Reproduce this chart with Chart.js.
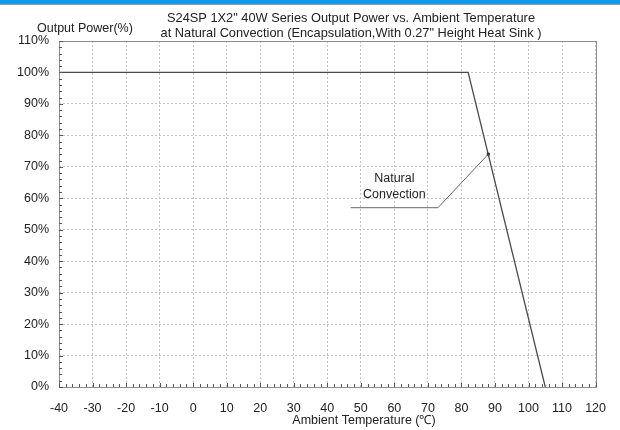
<!DOCTYPE html>
<html>
<head>
<meta charset="utf-8">
<script src="https://cdn.jsdelivr.net/npm/chart.js@4.4.1/dist/chart.umd.min.js"></script>
<style>
  html, body { margin: 0; padding: 0; background: #fff; }
  #wrap { width: 620px; height: 430px; position: relative; }
</style>
</head>
<body>
<div id="wrap"><canvas id="myChart" width="620" height="430"></canvas></div>
<script>
// axis ranges
const tempMin = -40, tempMax = 120, tempStep = 10, tempMinorStep = 2;
const powerMin = 0, powerMax = 110, powerStep = 10, powerMinorStep = 2;

// derating curve
const curveTemp = [-40, 82, 105];
const curvePower = [100, 100, 0];

// marked point + leader line of the label
const markerTemp = [88];
const markerPower = [74];
const leaderTemp = [88, 73, 47];
const leaderPower = [74, 57, 57];
const labelLines = ['Natural', 'Convection'];
const labelTemp = 60;
const labelPower = [66.3, 61.3];

const titleLines = [
    'S24SP 1X2" 40W Series Output Power vs. Ambient Temperature',
    'at Natural Convection (Encapsulation,With 0.27" Height Heat Sink )'
];
const yTitle = 'Output Power(%)';
const xTitle = 'Ambient Temperature (\u2103)';

const FONT = '"Liberation Sans", Arial, sans-serif';
const toXY = (xs, ys) => xs.map((x, i) => ({x: x, y: ys[i]}));

// draws the banner, titles, box, inward minor ticks and the label text
const decor = {
    id: 'decor',
    beforeDraw(chart) {
        const ctx = chart.ctx;
        ctx.save();
        ctx.fillStyle = '#ffffff';
        ctx.fillRect(0, 0, chart.width, chart.height);
        ctx.fillStyle = '#0c9bf0';
        ctx.fillRect(0, 0, chart.width, 4);
        ctx.fillStyle = '#9a9a9a';
        ctx.fillRect(0, 4, chart.width, 1);
        ctx.restore();
    },
    afterDatasetsDraw(chart) {
        const ctx = chart.ctx;
        const a = chart.chartArea;
        const xs = chart.scales.x, ys = chart.scales.y;
        ctx.save();

        // plot box
        ctx.strokeStyle = '#8c8c8c';
        ctx.lineWidth = 1;
        ctx.strokeRect(Math.round(a.left) + 0.5, Math.round(a.top) + 0.5,
            Math.round(a.right - a.left), Math.round(a.bottom - a.top));

        // minor ticks pointing inwards
        ctx.strokeStyle = '#555';
        ctx.beginPath();
        for (let t = tempMin; t <= tempMax; t += tempMinorStep) {
            const px = Math.round(xs.getPixelForValue(t)) + 0.5;
            const len = (t % tempStep === 0) ? 4 : 3;
            ctx.moveTo(px, a.bottom);
            ctx.lineTo(px, a.bottom - len);
        }
        for (let p = powerMin; p <= powerMax; p += powerMinorStep) {
            const py = Math.round(ys.getPixelForValue(p)) + 0.5;
            const len = (p % powerStep === 0) ? 4 : 3;
            ctx.moveTo(a.left, py);
            ctx.lineTo(a.left + len, py);
        }
        ctx.stroke();

        // label text
        ctx.fillStyle = '#222';
        ctx.font = '12.5px ' + FONT;
        ctx.textAlign = 'center';
        ctx.textBaseline = 'middle';
        labelLines.forEach((s, i) => {
            ctx.fillText(s, xs.getPixelForValue(labelTemp), ys.getPixelForValue(labelPower[i]));
        });

        // titles
        ctx.font = '12.8px ' + FONT;
        ctx.fillText(titleLines[0], 351, 18);
        ctx.fillText(titleLines[1], 351, 33);
        ctx.font = '12.5px ' + FONT;
        ctx.textAlign = 'left';
        ctx.fillText(yTitle, 37, 29);
        ctx.textAlign = 'center';
        ctx.fillText(xTitle, 364, 421);
        ctx.restore();
    }
};

const ctx = document.getElementById('myChart').getContext('2d');
const chart = new Chart(ctx, {
    type: 'line',
    data: {
        datasets: [
            {
                label: 'Natural Convection',
                data: toXY(curveTemp, curvePower),
                borderColor: '#4a4a4a',
                borderWidth: 1.3,
                pointRadius: 0,
                tension: 0,
                fill: false
            },
            {
                label: 'leader',
                data: toXY(leaderTemp, leaderPower),
                borderColor: '#666',
                borderWidth: 1,
                pointRadius: 0,
                tension: 0,
                fill: false
            },
            {
                label: 'marker',
                data: toXY(markerTemp, markerPower),
                showLine: false,
                pointRadius: 2,
                pointStyle: 'rect',
                pointBackgroundColor: '#000',
                pointBorderColor: '#000',
                pointBorderWidth: 0
            }
        ]
    },
    options: {
        responsive: false,
        animation: false,
        events: [],
        layout: { padding: { top: 41, right: 17, left: 0, bottom: 0 } },
        plugins: {
            legend: { display: false },
            title: { display: false },
            tooltip: { enabled: false }
        },
        scales: {
            x: {
                type: 'linear',
                min: tempMin,
                max: tempMax,
                afterFit: s => { s.height = 43; },
                ticks: {
                    stepSize: tempStep,
                    padding: 14,
                    color: '#222',
                    font: { family: FONT, size: 12.5 }
                },
                grid: { color: '#c4c4c4', lineWidth: 1, drawTicks: false },
                border: { display: false, dash: [2, 2] }
            },
            y: {
                type: 'linear',
                min: powerMin,
                max: powerMax,
                afterFit: s => { s.width = 59; },
                ticks: {
                    stepSize: powerStep,
                    padding: 10,
                    color: '#222',
                    font: { family: FONT, size: 12.5 },
                    callback: v => v + '%'
                },
                grid: { color: '#c4c4c4', lineWidth: 1, drawTicks: false },
                border: { display: false, dash: [2, 2] }
            }
        }
    },
    plugins: [decor]
});
</script>
</body>
</html>
